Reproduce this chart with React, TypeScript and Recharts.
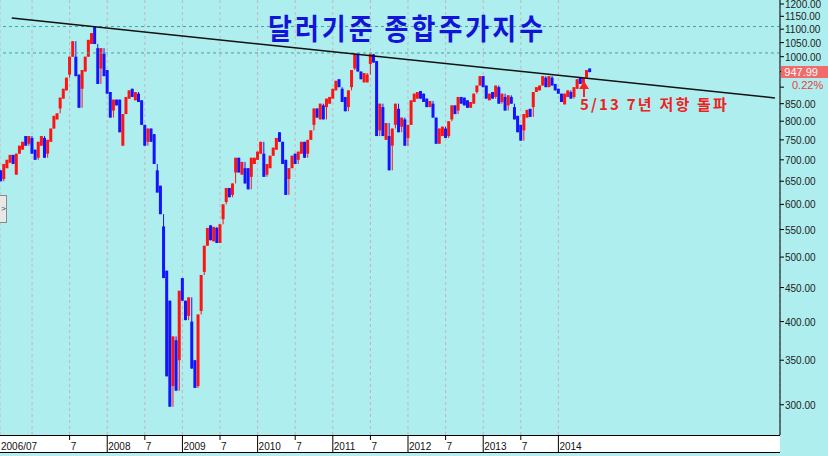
import React from 'react';
import { ComposedChart, Bar, XAxis, YAxis, CartesianGrid, ReferenceLine } from 'recharts';

// half-month candles [open, close] (1st and 16th of each month)
const y2006 = [[675, 650], [655, 690], [680, 700], [693, 712], [712, 690], [665, 715], [715, 735], [725, 745], [760, 735], [740, 760]];
const y2007 = [[755, 715], [725, 700], [705, 745], [735, 760], [755, 705], [715, 750], [745, 780], [780, 815], [805, 822], [836, 868], [865, 895], [890, 930],
  [940, 1000], [1000, 1055], [1000, 935], [940, 838], [895, 955], [950, 1000], [1000, 1060], [1045, 1085], [1110, 1045], [1030, 910], [960, 1030], [1010, 935]];
const y2008 = [[955, 880], [885, 810], [830, 862], [862, 845], [862, 770], [735, 820], [820, 870], [865, 890], [895, 870], [860, 885], [880, 855], [860, 790],
  [790, 735], [745, 780], [780, 745], [765, 690], [675, 625], [640, 580], [556, 465], [477, 331], [430, 298], [320, 380], [375, 315], [350, 445]];
const y2009 = [[465, 430], [430, 402], [408, 435], [400, 340], [350, 318], [320, 410], [415, 470], [475, 520], [520, 553], [558, 530], [528, 555], [553, 525],
  [525, 560], [570, 600], [605, 635], [635, 615], [620, 645], [670, 705], [705, 670], [665, 695], [680, 645], [680, 632], [660, 705], [690, 705]];
const y2010 = [[700, 720], [715, 745], [715, 660], [665, 690], [680, 710], [710, 730], [725, 755], [770, 745], [745, 690], [700, 620], [655, 680], [680, 710],
  [715, 690], [700, 720], [715, 745], [745, 705], [715, 750], [750, 775], [790, 836], [836, 810], [805, 850], [845, 805], [840, 865], [850, 870]];
const y2011 = [[865, 895], [890, 920], [925, 900], [895, 855], [870, 828], [840, 890], [900, 955], [960, 1010], [1010, 950], [950, 925], [915, 945], [915, 940],
  [975, 1010], [1008, 980], [985, 760], [775, 850], [840, 760], [750, 795], [760, 675], [735, 780], [790, 850], [835, 770], [785, 810], [805, 735]];
const y2012 = [[755, 790], [790, 860], [855, 880], [865, 885], [888, 865], [880, 855], [865, 840], [840, 858], [850, 810], [810, 740], [740, 780], [760, 785],
  [780, 755], [760, 800], [805, 845], [845, 820], [830, 870], [870, 850], [868, 845], [860, 838], [838, 855], [850, 880], [885, 905], [905, 935]];
const y2013 = [[935, 900], [905, 865], [860, 880], [885, 865], [870, 905], [900, 850], [855, 880], [870, 830], [845, 875], [870, 850], [840, 805], [815, 770],
  [790, 748], [775, 820], [810, 832], [835, 812], [840, 885], [885, 900], [890, 905], [905, 935], [930, 900], [900, 935], [930, 905], [910, 890]];
const y2014 = [[895, 880], [880, 855], [848, 880], [870, 890], [885, 865], [870, 900], [895, 925], [930, 910], [912, 930], [930, 955], [960, 948]];

const seriesByYear = [
  { year: 2006, firstMonth: 8, bars: y2006 },
  { year: 2007, firstMonth: 1, bars: y2007 },
  { year: 2008, firstMonth: 1, bars: y2008 },
  { year: 2009, firstMonth: 1, bars: y2009 },
  { year: 2010, firstMonth: 1, bars: y2010 },
  { year: 2011, firstMonth: 1, bars: y2011 },
  { year: 2012, firstMonth: 1, bars: y2012 },
  { year: 2013, firstMonth: 1, bars: y2013 },
  { year: 2014, firstMonth: 1, bars: y2014 },
];

const timeTicks = [2006.5, 2007, 2007.5, 2008, 2008.5, 2009, 2009.5, 2010, 2010.5, 2011, 2011.5, 2012, 2012.5, 2013, 2013.5, 2014];
const timeLabels = ['2006/07', '', '7', '2008', '7', '2009', '7', '2010', '7', '2011', '7', '2012', '7', '2013', '7', '2014'];
const priceTicks = [300, 350, 400, 450, 500, 550, 600, 650, 700, 750, 800, 850, 900, 950, 1000, 1050, 1100, 1150, 1200];
const hiddenPriceLabels = [900, 950];
const resistanceLevels = [1110, 1013];
const trendStart = { t: 2006.73, v: 1143 };
const trendEnd = { t: 2016.88, v: 867 };
const lastClose = '947.99';
const lastChange = '0.22%';

const RED = '#ff1414';
const BLUE = '#1414ff';
const BG = '#aeeeee';

const flat = seriesByYear.flatMap(({ year, firstMonth, bars }) =>
  bars.map(([open, close], i) => ({ t: year + (firstMonth - 1) / 12 + i / 24, open, close }))
);

// wick spans the true range (includes the previous close), body spans open..close
const rows = flat.map((d, i) => {
  const prev = i > 0 ? flat[i - 1].close : d.open;
  return { ...d, range: [Math.min(d.open, d.close, prev), Math.max(d.open, d.close, prev)] };
});

const Candle = (props: any) => {
  const { x, y, width, height, payload } = props;
  const up = payload.close >= payload.open;
  const color = up ? RED : BLUE;
  const [lo, hi] = payload.range;
  const span = Math.log(hi) - Math.log(lo) || 1;
  const toY = (v: number) => y + ((Math.log(hi) - Math.log(v)) / span) * height;
  const top = toY(Math.max(payload.open, payload.close));
  const bottom = toY(Math.min(payload.open, payload.close));
  const cx = x + width / 2;
  return (
    <g>
      <line x1={cx} x2={cx} y1={y} y2={y + height} stroke={color} strokeWidth={1} />
      <rect x={x} y={top} width={width} height={Math.max(bottom - top, 1.5)} fill={color} />
    </g>
  );
};

const TimeTick = (props: any) => {
  const { x, y, payload } = props;
  const idx = timeTicks.indexOf(payload.value);
  const label = timeLabels[idx];
  if (!label) return <g />;
  const isYear = label !== '7';
  return (
    <g>
      <line x1={x} x2={x} y1={y} y2={isYear ? y + 18 : y + 5} stroke="#000" />
      <text x={Math.max(x, 0) + 1} y={y + 14.5} fontSize={10} fill="#111" fontFamily="Liberation Sans, Arial, sans-serif">
        {label}
      </text>
    </g>
  );
};

const PriceTick = (props: any) => {
  const { x, y, payload } = props;
  if (hiddenPriceLabels.includes(payload.value)) return <g />;
  return (
    <text x={x} y={y} dy={4} fontSize={10} fill="#222" fontFamily="Liberation Sans, Arial, sans-serif">
      {payload.value.toFixed(2)}
    </text>
  );
};

export default function App() {
  return (
    <div style={{ position: 'absolute', left: 0, top: 0, width: 828, height: 456, background: BG, overflow: 'hidden' }}>
      <div style={{ position: 'absolute', left: 0, top: 435, width: 780, height: 18, background: '#fff', borderTop: '1px solid #000', borderBottom: '1px solid #000', boxSizing: 'border-box' }} />
      <div style={{ position: 'absolute', left: 0, top: 0 }}>
        <ComposedChart width={828} height={456} data={rows} margin={{ top: 0, right: 0, bottom: 0, left: 0 }}>
          <CartesianGrid vertical horizontal={false} stroke="#c9b3bb" strokeDasharray="3 3" />
          <XAxis
            dataKey="t"
            type="number"
            scale="linear"
            domain={[2006.574, 2016.947]}
            allowDataOverflow
            ticks={timeTicks}
            interval={0}
            height={21}
            tickSize={0}
            tickMargin={0}
            tickLine={false}
            axisLine={false}
            tick={<TimeTick />}
          />
          <YAxis
            orientation="right"
            type="number"
            scale="log"
            domain={[270.2, 1216.7]}
            allowDataOverflow
            ticks={priceTicks}
            interval={0}
            width={48}
            tickSize={4}
            tickMargin={1}
            axisLine={{ stroke: '#000' }}
            tickLine={{ stroke: '#000' }}
            tick={<PriceTick />}
          />
          <Bar dataKey="range" barSize={3} isAnimationActive={false} shape={<Candle />} />
          {resistanceLevels.map((v) => (
            <ReferenceLine key={v} y={v} stroke="#4f9f9f" strokeDasharray="3 3" />
          ))}
          <ReferenceLine
            segment={[{ x: trendStart.t, y: trendStart.v }, { x: trendEnd.t, y: trendEnd.v }]}
            stroke="#111"
            strokeWidth={1.5}
          />
        </ComposedChart>
      </div>

      <div style={{ position: 'absolute', left: 268, top: 13, fontSize: 26, fontWeight: 700, letterSpacing: 3, color: '#1414d8', fontFamily: '"Noto Sans CJK KR", sans-serif', lineHeight: 1, whiteSpace: 'nowrap', transform: 'scaleY(1.12)', transformOrigin: 'top left' }}>
        달러기준 종합주가지수
      </div>

      <div style={{ position: 'absolute', left: 580, top: 96, fontSize: 15, fontWeight: 700, letterSpacing: 2.2, color: '#f02020', fontFamily: '"Noto Sans CJK KR", sans-serif', lineHeight: 1, whiteSpace: 'nowrap' }}>
        5/13 7년 저항 돌파
      </div>

      <svg width={828} height={456} style={{ position: 'absolute', left: 0, top: 0, pointerEvents: 'none' }}>
        <line x1={584} x2={584} y1={86} y2={97} stroke="#ff2020" strokeWidth={2} />
        <polygon points="579,89 584,81 589,89" fill="#ff2020" />
      </svg>

      <div style={{ position: 'absolute', left: 781, top: 66, width: 47, height: 12, background: '#f26a6a', color: '#fff', fontSize: 11, lineHeight: '12px', textAlign: 'right', paddingRight: 10, boxSizing: 'border-box', fontFamily: 'Liberation Sans, Arial, sans-serif' }}>
        {lastClose}
      </div>
      <div style={{ position: 'absolute', left: 792, top: 79, fontSize: 11, lineHeight: '12px', color: '#e84040', fontFamily: 'Liberation Sans, Arial, sans-serif' }}>
        {lastChange}
      </div>

      <div style={{ position: 'absolute', left: -1, top: 195, width: 8, height: 28, background: '#e8e8e8', border: '1px solid #8a8a8a', boxSizing: 'border-box', fontSize: 8, lineHeight: '26px', textAlign: 'right', color: '#333', fontFamily: 'Liberation Sans, Arial, sans-serif' }}>
        &gt;
      </div>
    </div>
  );
}
